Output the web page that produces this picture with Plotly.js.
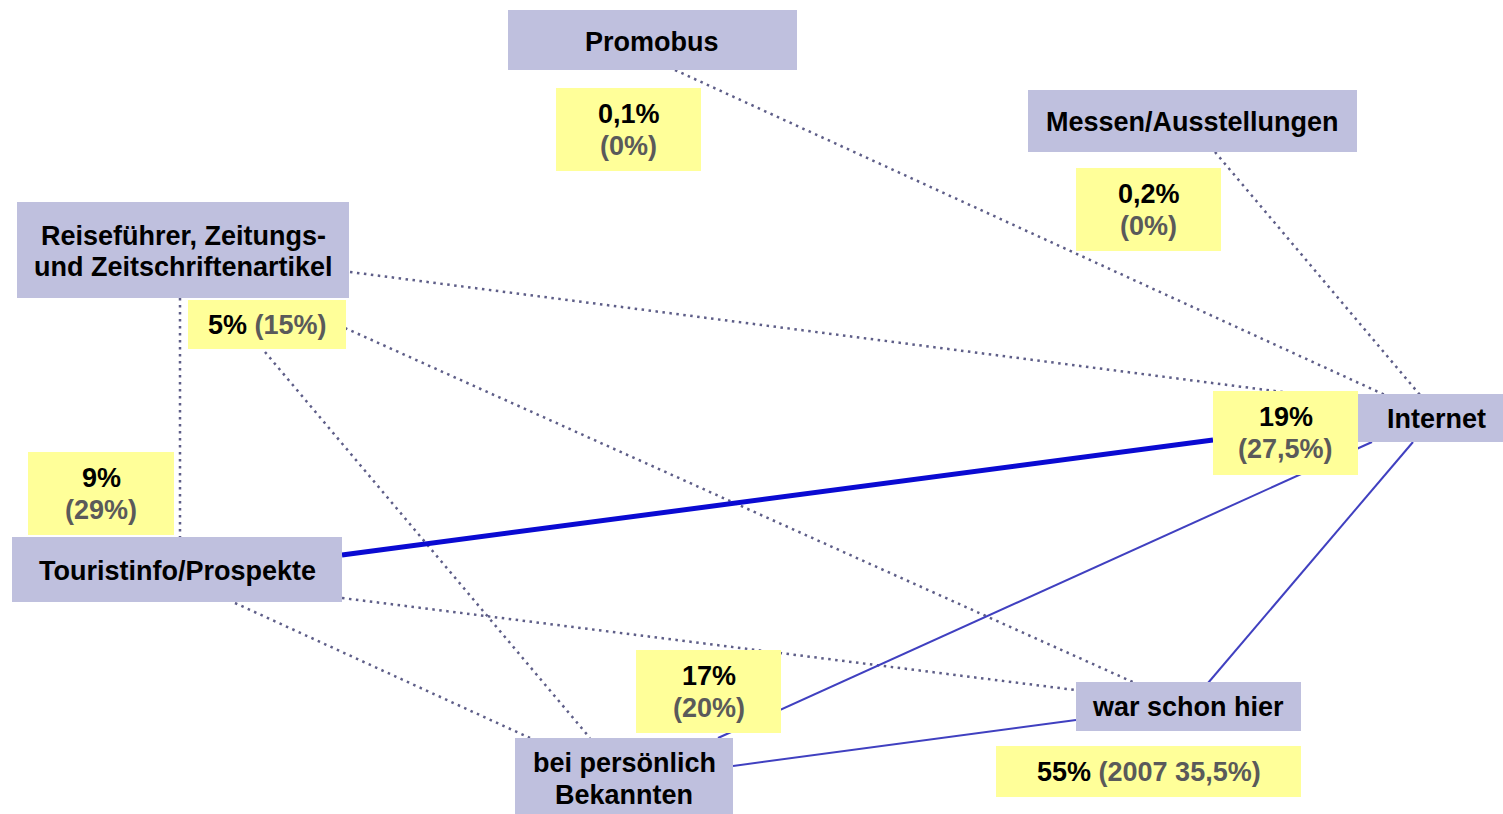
<!DOCTYPE html>
<html><head><meta charset="utf-8">
<script src="https://cdn.plot.ly/plotly-3.0.1.min.js"></script>
<style>html,body{margin:0;padding:0;background:#fff;}#chart{width:1503px;height:814px;}</style>
</head><body><div id="chart"></div>
<script>
// ---- Data ----
const nodeLabels = [["Promobus"],["Messen/Ausstellungen"],["Reiseführer, Zeitungs-","und Zeitschriftenartikel"],["Touristinfo/Prospekte"],["Internet"],["war schon hier"],["bei persönlich","Bekannten"]];
const shareNow = ["0,1%","0,2%","5%","9%","19%","55%","17%"];
const sharePrev = ["(0%)","(0%)","(15%)","(29%)","(27,5%)","(2007 35,5%)","(20%)"];
const shareInline = [false,false,true,false,false,true,false];

// ---- Layout geometry (pixel space of the diagram) ----
const nodeBox = [ // x0,x1,y0,y1
  [508,797,10,70],[1028,1357,90,152],[17,349,202,298],[12,342,537,602],
  [1357,1503,394,442],[1076,1301,682,731],[515,733,738,814]];
const shareBox = [
  [556,701,88,171],[1076,1221,168,251],[188,346,300,349],[28,174,452,535],
  [1213,1358,391,475],[996,1301,746,797],[636,781,650,733]];
const nodeTextX = [652,1192,183,177,1436,1188,624];
const nodeTextY = [[42],[122],[236,267],[571],[419],[707],[763,795]];
const LINE_GAP = 32;

// edges: [x0,x1], [y0,y1]
const dottedEdgesX = [[675,1385],[1215,1420],[350,1290],[180,180],[345,1135],[265,590],[342,1075],[235,530]];
const dottedEdgesY = [[70,395],[152,395],[272,393],[298,537],[328,683],[352,738],[598,690],[603,738]];
const solidEdgesX = [[718,1372],[733,1076],[1208,1413]];
const solidEdgesY = [[738,442],[766,720],[683,442]];
const mainEdgeX = [342,1213];
const mainEdgeY = [555,440];

const LAV = "#bfc0de", YEL = "#ffff99", GRAY = "#5a5a5a";
const FONT = "Liberation Sans, Arial, sans-serif";
const FS = 27;

const traces = [];
dottedEdgesX.forEach((xs,i)=>traces.push({type:"scatter",mode:"lines",x:xs,y:dottedEdgesY[i],
  line:{color:"#5e5e88",width:2.5,dash:"2.5px,4.5px"},hoverinfo:"skip",showlegend:false}));
solidEdgesX.forEach((xs,i)=>traces.push({type:"scatter",mode:"lines",x:xs,y:solidEdgesY[i],
  line:{color:"#4040c0",width:2},hoverinfo:"skip",showlegend:false}));
traces.push({type:"scatter",mode:"lines",x:mainEdgeX,y:mainEdgeY,line:{color:"#0a0ad2",width:5},hoverinfo:"skip",showlegend:false});

const shapes = [];
nodeBox.forEach(b=>shapes.push({type:"rect",xref:"x",yref:"y",x0:b[0],x1:b[1],y0:b[2],y1:b[3],fillcolor:LAV,line:{width:0},layer:"above"}));
shareBox.forEach(b=>shapes.push({type:"rect",xref:"x",yref:"y",x0:b[0],x1:b[1],y0:b[2],y1:b[3],fillcolor:YEL,line:{width:0},layer:"above"}));

const annotations = [];
const ann = (x,y,text)=>annotations.push({x:x,y:y,xref:"x",yref:"y",text:text,showarrow:false,
  font:{family:FONT,size:FS,color:"#000"},xanchor:"center",yanchor:"middle"});
nodeLabels.forEach((lines,i)=>lines.forEach((t,j)=>ann(nodeTextX[i],nodeTextY[i][j],"<b>"+t+"</b>")));
shareBox.forEach((b,i)=>{
  const cx=(b[0]+b[1])/2, cy=(b[2]+b[3])/2;
  const prev = "<b><span style=\"color:"+GRAY+"\">"+sharePrev[i]+"</span></b>";
  if (shareInline[i]) ann(cx,cy,"<b>"+shareNow[i]+"</b> "+prev);
  else { ann(cx,cy-LINE_GAP/2,"<b>"+shareNow[i]+"</b>"); ann(cx,cy+LINE_GAP/2,prev); }
});

const layout = {
  width:1503,height:814,margin:{l:0,r:0,t:0,b:0},paper_bgcolor:"#fff",plot_bgcolor:"#fff",
  xaxis:{range:[0,1503],visible:false,fixedrange:true},
  yaxis:{range:[814,0],visible:false,fixedrange:true},
  shapes:shapes,annotations:annotations,showlegend:false
};
Plotly.newPlot("chart",traces,layout,{displayModeBar:false,staticPlot:true});
</script></body></html>
